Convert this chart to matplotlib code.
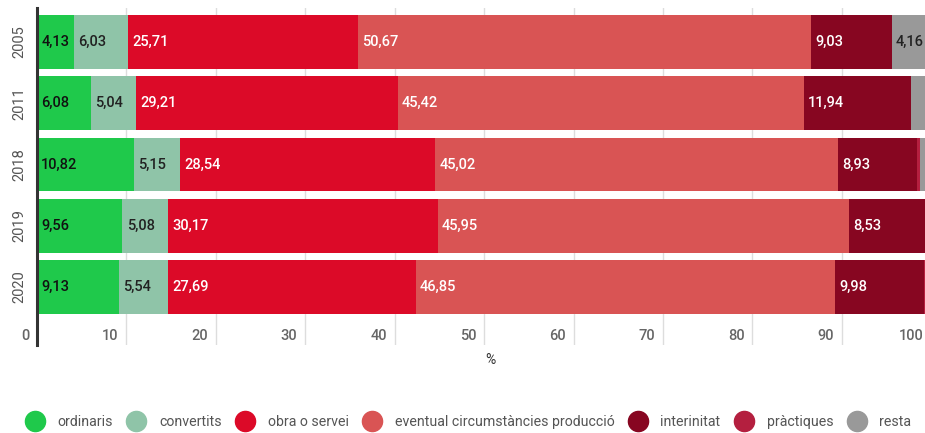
import matplotlib
matplotlib.use("Agg")
import matplotlib.pyplot as plt
import matplotlib.transforms as mtransforms
from matplotlib.lines import Line2D
import numpy as np

plt.rcParams['font.family'] = ['Roboto', 'DejaVu Sans']

years = ["2005", "2011", "2018", "2019", "2020"]
series = ["ordinaris", "convertits", "obra o servei",
          "eventual circumstàncies producció", "interinitat",
          "pràctiques", "resta"]
ordinaris = [4.13, 6.08, 10.82, 9.56, 9.13]
convertits = [6.03, 5.04, 5.15, 5.08, 5.54]
obra = [25.71, 29.21, 28.54, 30.17, 27.69]
eventual = [50.67, 45.42, 45.02, 45.95, 46.85]
interinitat = [9.03, 11.94, 8.93, 8.53, 9.98]
practiques = [0.0, 0.0, 0.30, 0.20, 0.30]
resta = [4.16, 2.31, 1.24, 0.51, 0.51]
xticks = [0, 10, 20, 30, 40, 50, 60, 70, 80, 90, 100]

values = [ordinaris, convertits, obra, eventual, interinitat, practiques, resta]
colors = ["#1fc94b", "#8fc4a8", "#dc0a28", "#d95454", "#870621", "#b41f3f", "#999999"]
label_colors = ["#111111", "#222222", "white", "white", "white", "white", "#222222"]

XMAX = 99.3

fig = plt.figure(figsize=(9.25, 4.33), dpi=100)
ax = fig.add_axes([37/925, 1-345/433, 1-37/925, (345-8)/433])

ypos = np.arange(len(years))
left = np.zeros(len(years))
for vals, col, lc in zip(values, colors, label_colors):
    vals = np.array(vals)
    ax.barh(ypos, vals, left=left, height=0.88, color=col, zorder=2)
    for i, v in enumerate(vals):
        if v >= 3:
            ax.annotate(f"{v:.2f}".replace(".", ","), xy=(left[i], ypos[i]),
                        xytext=(3, 0), textcoords="offset points",
                        ha="left", va="center", fontsize=10.5, color=lc,
                        fontweight=500, zorder=3)
    left += vals

ax.set_xlim(0, XMAX)
ax.set_ylim(4.947, -0.555)

for t in xticks:
    if 0 < t < XMAX:
        ax.axvline(t, color="#dddddd", lw=1, zorder=1)
    off = mtransforms.offset_copy(ax.transData, fig=fig, x=-8, y=0, units="dots")
    ax.text(t, 4.8, str(t), transform=off, ha="right", va="center",
            fontsize=10.5, color="#666666", fontweight=500, clip_on=False)

ax.set_yticks(ypos)
ax.set_yticklabels(years, rotation=90, va="center", fontsize=10.5, color="#555555")
ax.tick_params(axis="y", length=0, pad=8)
ax.set_xticks([])
for s in ["top", "right", "bottom"]:
    ax.spines[s].set_visible(False)
ax.spines["left"].set_color("#333333")
ax.spines["left"].set_linewidth(2.2)
ax.spines["left"].set_zorder(4)

fig.text((490)/925, 1-360/433, "%", ha="center", va="center", fontsize=10, color="#333333")

handles = [Line2D([], [], marker="o", ls="", markersize=14.5, color=c) for c in colors]
fig.legend(handles, series, loc="center", bbox_to_anchor=(0.506, 1-422/433), ncol=7,
           frameon=False, handlelength=1.4, handletextpad=0.9, columnspacing=0.95,
           fontsize=10.2, labelcolor="#555555")

fig.savefig("out.png", dpi=100)
